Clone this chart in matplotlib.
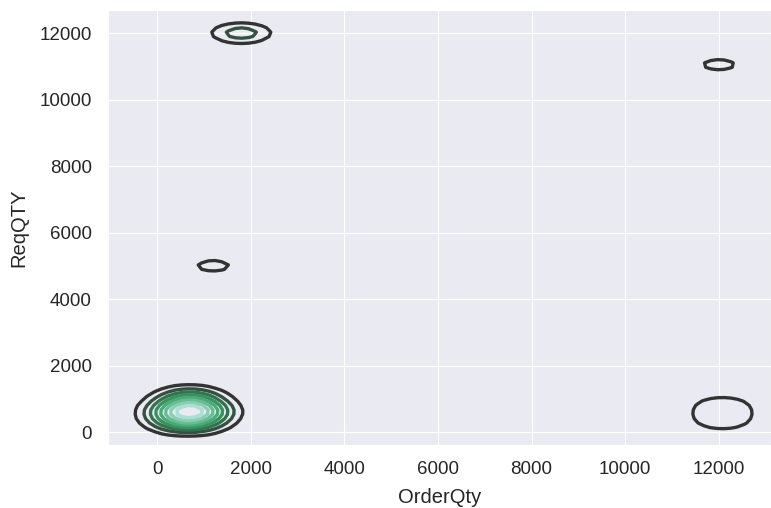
import numpy as np
import matplotlib
matplotlib.use("Agg")
import matplotlib as mpl
import matplotlib.pyplot as plt
import seaborn as sns
from matplotlib.colors import LinearSegmentedColormap

# ---- data (OrderQty, ReqQTY pairs) ----
order_qty = [350, 850,
             550, 1050,
             300, 750,
             250, 650, 1000,
             400, 850, 1100,
             200, 500, 750, 1150,
             350, 650, 800, 1050,
             550, 950,
             300, 850,
             600, 1000,
             500, 800,
             1200, 1200,
             1750, 1800, 1800, 1850,
             12000, 12000,
             11850, 12300, 11750, 12400, 11850, 12300]
req_qty = [150, 150,
           250, 250,
           350, 350,
           420, 420, 420,
           550, 550, 550,
           630, 630, 630, 630,
           700, 700, 700, 700,
           800, 800,
           900, 900,
           1050, 1050,
           1150, 1150,
           5000, 5000,
           12000, 12000, 12000, 12000,
           11050, 11050,
           260, 260, 570, 570, 880, 880]

x_ticks = [0, 2000, 4000, 6000, 8000, 10000, 12000]
y_ticks = [0, 2000, 4000, 6000, 8000, 10000, 12000]

sns.set_style("darkgrid")
plt.rcParams['font.family'] = ['Liberation Sans', 'DejaVu Sans']

x = np.asarray(order_qty, float)
y = np.asarray(req_qty, float)
n = len(x)


def bw_scott(v):
    q75, q25 = np.percentile(v, [75, 25])
    a = min(np.std(v, ddof=1), (q75 - q25) / 1.349)
    return 1.059 * a * n ** (-0.2)


bx, by = bw_scott(x), bw_scott(y)

xlim = (-1048, 13112)
ylim = (-390, 12690)
gx = np.linspace(xlim[0], xlim[1], 100)
gy = np.linspace(ylim[0], ylim[1], 100)
XX, YY = np.meshgrid(gx, gy)
kx = np.exp(-0.5 * ((gx[None, :] - x[:, None]) / bx) ** 2)
ky = np.exp(-0.5 * ((gy[None, :] - y[:, None]) / by) ** 2)
Z = (ky.T @ kx) / (n * 2 * np.pi * bx * by)

levels = Z.max() * np.arange(1, 9) / 9.0

pal = ["#333333"] + [tuple(c) for c in mpl.colormaps["BuGn_r"](np.linspace(0, 1, 4)[1:-1])]
cmap = LinearSegmentedColormap.from_list("blend", pal)

fig = plt.figure(figsize=(7.71, 5.08), dpi=100)
ax = fig.add_axes([0.140, 0.124, 0.860, 0.856])
cs = ax.contour(XX, YY, Z, levels, cmap=cmap, linewidths=2.4)
ax.set_xlim(xlim)
ax.set_ylim(ylim)
ax.set_xticks(x_ticks)
ax.set_yticks(y_ticks)
ax.tick_params(labelsize=13.5, colors="#262626", pad=8)
ax.set_xlabel("OrderQty", fontsize=14.5, color="#262626", labelpad=7)
ax.set_ylabel("ReqQTY", fontsize=14.5, color="#262626", labelpad=8)

fig.savefig("out.png", dpi=100)
